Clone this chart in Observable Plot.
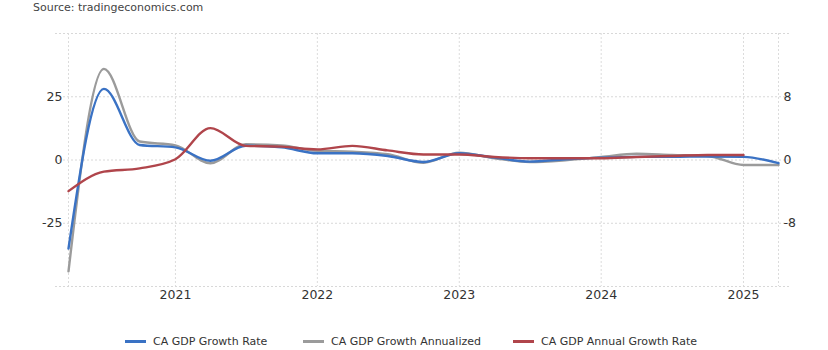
<!DOCTYPE html>
<html>
<head>
<meta charset="utf-8">
<script src="https://cdn.jsdelivr.net/npm/d3@7"></script>
<script src="https://cdn.jsdelivr.net/npm/@observablehq/plot@0.6"></script>
<style>
  body { margin: 0; background: #fff; font-family: "DejaVu Sans", sans-serif; }
  #wrap { position: relative; width: 828px; height: 350px; }
  #source { position: absolute; left: 33px; top: 1px; font-size: 11px; color: #444; }
  #legend { position: absolute; top: 335px; left: 0; width: 828px; font-size: 11px; color: #333; }
  .li { position: absolute; display: flex; align-items: center; white-space: nowrap; }
  .sw { display: inline-block; width: 21px; height: 2.5px; margin-right: 7px; }
</style>
</head>
<body>
<div id="wrap">
  <div id="chart"></div>
  <div id="source">Source: tradingeconomics.com</div>
  <div id="legend"></div>
</div>
<script>
// Quarterly observations, Q2 2020 .. Q2 2025 (dated at quarter start)
const quarters = ["2020-04-01","2020-07-01","2020-10-01","2021-01-01","2021-04-01","2021-07-01","2021-10-01",
  "2022-01-01","2022-04-01","2022-07-01","2022-10-01","2023-01-01","2023-04-01","2023-07-01","2023-10-01",
  "2024-01-01","2024-04-01","2024-07-01","2024-10-01","2025-01-01","2025-04-01"];
// CA GDP Growth Rate (right axis)
const growthRate = [-11.2, 9.0, 1.9, 1.6, -0.1, 1.8, 1.6, 0.85, 0.85, 0.5, -0.25, 0.85, 0.3, -0.2, 0.1, 0.3, 0.4, 0.4, 0.45, 0.4, -0.4];
// CA GDP Growth Annualized (left axis)
const annualized = [-44, 36, 7.3, 5.8, -1.3, 6.2, 5.8, 3.6, 3.3, 2.3, -1.1, 2.9, 0.7, -0.8, -0.1, 1.2, 2.5, 2.0, 1.6, -2.0, -2.0];
// CA GDP Annual Growth Rate (left axis), ends Q1 2025
const annualRate = [-12.3, -4.6, -3.3, 0.3, 12.6, 5.6, 5.3, 4.2, 5.6, 3.8, 2.2, 2.2, 1.2, 0.7, 0.7, 0.7, 1.2, 1.6, 2.0, 2.0];

const leftTicks = [-25, 0, 25];
const rightTicks = [-8, 0, 8];
const yearTicks = ["2021-01-01","2022-01-01","2023-01-01","2024-01-01","2025-01-01"];
const seriesNames = ["CA GDP Growth Rate", "CA GDP Growth Annualized", "CA GDP Annual Growth Rate"];
const colors = ["#3a72c4", "#9b9b9b", "#b0454b"];

const ratio = 25 / 8; // right axis -> left axis units
const parse = d3.utcParse("%Y-%m-%d");
const rows = [];
quarters.forEach((q, i) => {
  rows.push({date: parse(q), series: seriesNames[1], y: annualized[i]});
});
quarters.forEach((q, i) => {
  rows.push({date: parse(q), series: seriesNames[0], y: growthRate[i] * ratio});
});
annualRate.forEach((v, i) => {
  rows.push({date: parse(quarters[i]), series: seriesNames[2], y: v});
});
const vLines = [parse(quarters[0]), ...yearTicks.map(parse), parse(quarters[quarters.length - 1])];

const chart = Plot.plot({
  width: 828,
  height: 350,
  marginLeft: 55,
  marginRight: 38,
  marginTop: 33,
  marginBottom: 64,
  insetLeft: 13,
  insetRight: 12,
  style: { fontFamily: "DejaVu Sans, sans-serif", fontSize: "12.5px", color: "#333", background: "transparent" },
  x: { type: "utc", domain: [parse(quarters[0]), parse(quarters[quarters.length - 1])], label: null },
  y: { domain: [-50, 50], label: null },
  color: { domain: seriesNames, range: colors },
  marks: [
    Plot.gridY([-50, -25, 0, 25, 50], { stroke: "#d8d8d8", strokeOpacity: 1, strokeDasharray: "2,2" }),
    Plot.ruleX(vLines, { stroke: "#dcdcdc", strokeDasharray: "2,2" }),
    Plot.axisY(leftTicks, { anchor: "left", label: null, tickSize: 0, tickPadding: 0, dx: 7, fill: "#333", fontSize: 12.5, tickFormat: d => String(d) }),
    Plot.axisY(leftTicks, { anchor: "right", label: null, tickSize: 0, tickPadding: 0, dx: -7, fill: "#333", fontSize: 12.5, tickFormat: d => String(rightTicks[leftTicks.indexOf(d)]) }),
    Plot.axisX(yearTicks.map(parse), { label: null, tickSize: 0, tickPadding: 4, tickFormat: d3.utcFormat("%Y"), fill: "#333", fontSize: 12.5 }),
    Plot.line(rows, { x: "date", y: "y", z: "series", stroke: "series", strokeWidth: 2.4, curve: "monotone-x" })
  ]
});
document.getElementById("chart").appendChild(chart);

const legendPos = [125, 303, 513];
const legend = document.getElementById("legend");
seriesNames.forEach((name, i) => {
  const el = document.createElement("div");
  el.className = "li";
  el.style.left = legendPos[i] + "px";
  el.innerHTML = `<span class="sw" style="background:${colors[i]}"></span><span>${name}</span>`;
  legend.appendChild(el);
});
</script>
</body>
</html>
